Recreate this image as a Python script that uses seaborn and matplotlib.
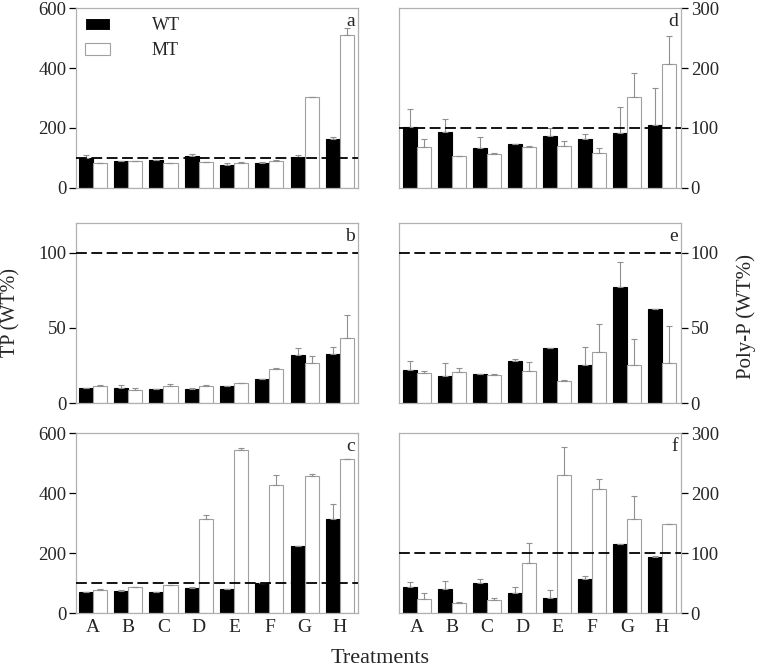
import numpy as np
import pandas as pd
import matplotlib
matplotlib.use("Agg")
import matplotlib.pyplot as plt
import seaborn as sns

treatments = ["A", "B", "C", "D", "E", "F", "G", "H"]
genotypes = ["WT", "MT"]

# Panel a (TP)
a_wt = [101, 89, 92, 106, 78, 82, 103, 165]
a_wt_err = [8, 2, 2, 6, 5, 4, 6, 5]
a_mt = [83, 90, 82, 86, 84, 90, 303, 511]
a_mt_err = [1, 1, 1, 1, 3, 3, 2, 21]
# Panel b (TP)
b_wt = [10, 10, 9.3, 9.6, 11.3, 16, 32.2, 32.4]
b_wt_err = [0.3, 2, 0.3, 0.3, 0.3, 0.3, 4.5, 4.9]
b_mt = [11.3, 8.9, 11.6, 11.6, 13.3, 22.7, 26.7, 43.3]
b_mt_err = [0.8, 0.9, 1.1, 0.4, 0.2, 0.5, 4.6, 15.4]
# Panel c (TP)
c_wt = [69, 75, 69, 82, 81, 100, 222, 314]
c_wt_err = [0, 2, 2, 6, 0, 0, 0, 49]
c_mt = [78, 86.5, 93, 312, 542, 426, 457, 515]
c_mt_err = [2, 0, 2, 14, 7, 33, 7, 0]
# Panel d (Poly-P)
d_wt = [101, 93, 67, 73, 87, 82, 91.5, 105]
d_wt_err = [31, 22, 18, 0.5, 13, 8, 43.5, 61]
d_mt = [68, 54, 57, 69, 70, 58, 151, 207]
d_mt_err = [14, 0, 1, 0.5, 9, 9, 41, 46]
# Panel e (Poly-P)
e_wt = [22, 18.2, 19.3, 28, 36.4, 25.1, 77.3, 62.4]
e_wt_err = [6, 8.8, 0.2, 1.6, 0, 12, 16.9, 0]
e_mt = [20.2, 20.7, 18.9, 21.3, 14.7, 34, 25.3, 26.9]
e_mt_err = [1.1, 2.4, 0.2, 6.3, 0.6, 18.7, 17.4, 24.2]
# Panel f (Poly-P)
f_wt = [42.7, 39.4, 50.5, 32.7, 24.4, 56.6, 115.4, 93.7]
f_wt_err = [8.9, 13.8, 6.6, 10.6, 13.3, 5, 0, 1.5]
f_mt = [23.8, 16.1, 21.6, 83.7, 229.6, 207.4, 157, 148]
f_mt_err = [9.5, 1.6, 3.4, 32.8, 47.7, 16.6, 38.8, 0]

panels = {
    "a": (a_wt, a_wt_err, a_mt, a_mt_err, (0, 600), [0, 200, 400, 600]),
    "b": (b_wt, b_wt_err, b_mt, b_mt_err, (0, 120), [0, 50, 100]),
    "c": (c_wt, c_wt_err, c_mt, c_mt_err, (0, 600), [0, 200, 400, 600]),
    "d": (d_wt, d_wt_err, d_mt, d_mt_err, (0, 300), [0, 100, 200, 300]),
    "e": (e_wt, e_wt_err, e_mt, e_mt_err, (0, 120), [0, 50, 100]),
    "f": (f_wt, f_wt_err, f_mt, f_mt_err, (0, 300), [0, 100, 200, 300]),
}

sns.set_theme(style="white")
plt.rcParams["font.family"] = ["Liberation Serif", "DejaVu Serif"]

fig = plt.figure(figsize=(7.6, 6.67), dpi=100)
W, H = 760, 667
lefts = {"L": 76, "R": 399}
tops = {0: 8, 1: 223, 2: 433}
aw, ah = 282, 180
layout = {"a": ("L", 0), "b": ("L", 1), "c": ("L", 2),
          "d": ("R", 0), "e": ("R", 1), "f": ("R", 2)}

spine_col = "#b0b0b0"
for key, (wt, wte, mt, mte, ylim, yt) in panels.items():
    col, row = layout[key]
    ax = fig.add_axes([lefts[col] / W, 1 - (tops[row] + ah) / H, aw / W, ah / H])
    df = pd.DataFrame({
        "Treatment": treatments * 2,
        "Genotype": ["WT"] * 8 + ["MT"] * 8,
        "value": list(wt) + list(mt),
    })
    sns.barplot(data=df, x="Treatment", y="value", hue="Genotype",
                order=treatments, hue_order=genotypes,
                palette={"WT": "black", "MT": "white"},
                width=0.8, errorbar=None, ax=ax, legend=(key == "a"),
                linewidth=0.8, saturation=1)
    for cont, g in zip(ax.containers, genotypes):
        for p in cont:
            p.set_edgecolor("black" if g == "WT" else "#a0a0a0")
    for cont, errs, vals in zip(ax.containers, [wte, mte], [wt, mt]):
        xs = [p.get_x() + p.get_width() / 2 for p in cont]
        ax.errorbar(xs, vals, yerr=[np.zeros(len(errs)), errs], fmt="none",
                    ecolor="#909090", elinewidth=0.8, capsize=2.2, capthick=0.8,
                    zorder=1)
    ax.axhline(100, color="black", ls=(0, (6, 2.5)), lw=1.3, zorder=5)
    ax.set_ylim(*ylim)
    ax.set_yticks(yt)
    if col == "L":
        ax.set_xlim(-0.475, 7.51)
    else:
        ax.set_xlim(-0.52, 7.55)
    for s in ax.spines.values():
        s.set_color(spine_col)
        s.set_linewidth(0.9)
    ax.set_xlabel("")
    ax.set_ylabel("")
    if col == "R":
        ax.yaxis.tick_right()
    ax.tick_params(axis="y", which="both", length=5, width=0.9, color="black",
                   labelsize=13.5, direction="out", pad=2,
                   left=(col == "L"), right=(col == "R"))
    ax.tick_params(axis="x", length=0, labelsize=14, pad=4)
    if row != 2:
        ax.set_xticklabels([])
    ax.text(0.99, 0.97, key, transform=ax.transAxes, ha="right", va="top",
            fontsize=14)
    if key == "a":
        leg = ax.legend(loc="upper left", frameon=False, fontsize=13,
                        handlelength=1.4, handleheight=0.65, handletextpad=2.3,
                        borderaxespad=0.1, labelspacing=0.45,
                        bbox_to_anchor=(0.0, 1.0))
        for h in leg.legend_handles:
            if h.get_facecolor()[0] > 0.5:
                h.set_edgecolor("#a0a0a0")

fig.text(0.0145, 0.532, "TP (WT%)", rotation=90, ha="center", va="center", fontsize=14.5)
fig.text(0.982, 0.525, "Poly-P (WT%)", rotation=90, ha="center", va="center", fontsize=15)
fig.text(0.5, 0.013, "Treatments", ha="center", va="center", fontsize=16)

fig.savefig("out.png", dpi=100)
